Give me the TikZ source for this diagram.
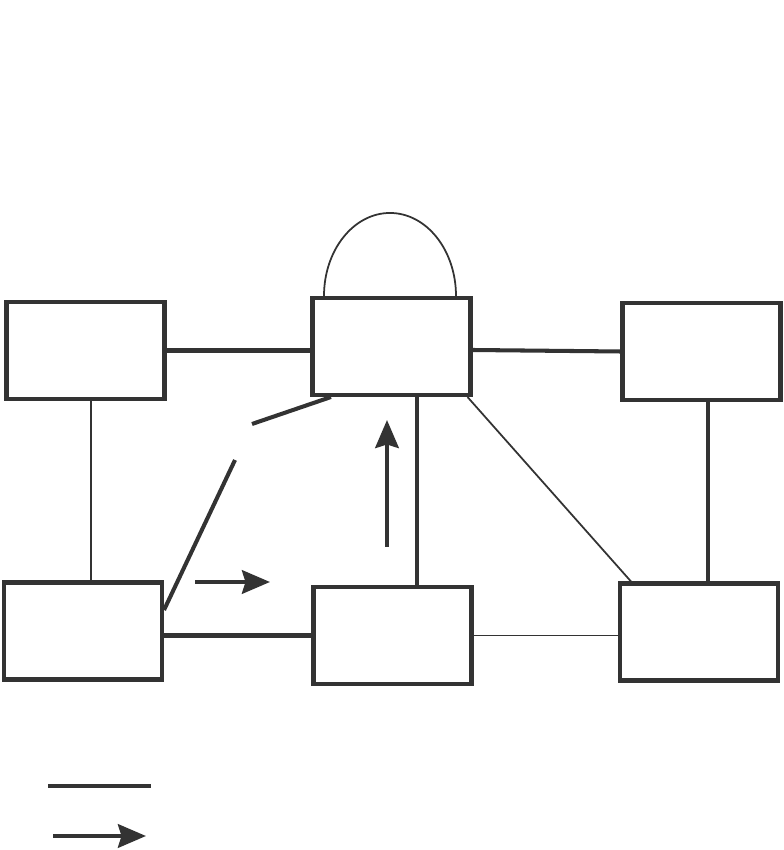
\documentclass[tikz,border=0pt]{standalone}
\usepackage{tikz}
\usetikzlibrary{calc,arrows.meta}
\definecolor{lineGrey}{HTML}{333333}
\tikzset{
  blockbox/.style={rectangle, draw=lineGrey, line width=2.3pt, minimum width=3.16cm, minimum height=1.94cm, inner sep=0pt},
  heavylink/.style={draw=lineGrey, line width=2.3pt},
  lightlink/.style={draw=lineGrey, line width=1pt},
  flowarrow/.style={-{Stealth[length=0.56cm, width=0.47cm, inset=0.07cm]}, draw=lineGrey, fill=lineGrey, line width=2.4pt},
}
\begin{document}
\begin{tikzpicture}[x=1cm,y=1cm]
  \useasboundingbox (0,0) rectangle (15.68,17);

  % Blocks
  \node[blockbox] (tl) at (1.71, 9.99) {};
  \node[blockbox] (tc) at (7.83, 10.07) {};
  \node[blockbox] (tr) at (14.03, 9.97) {};
  \node[blockbox] (bl) at (1.66, 4.38) {};
  \node[blockbox] (bc) at (7.85, 4.29) {};
  \node[blockbox] (br) at (13.98, 4.36) {};

  % Loop on top block
  \draw[lightlink] ([xshift=-1.35cm]tc.north) arc[start angle=180, end angle=0, x radius=1.32cm, y radius=1.66cm];

  % Links
  \draw[heavylink] (tl.east) -- (tl.east -| tc.west);
  \draw[heavylink] ([yshift=-0.07cm]tc.east) -- (tr.west);
  \draw[lightlink] ([xshift=0.11cm]tl.south) -- ([xshift=0.11cm]tl.south |- bl.north);
  \draw[heavylink] ([xshift=0.13cm]tr.south) -- ([xshift=0.13cm]tr.south |- br.north);
  \draw[heavylink] (bc.west -| bl.east) -- (bc.west);
  \draw[lightlink] (bc.east) -- (bc.east -| br.west);
  \draw[heavylink] ([xshift=0.51cm]tc.south) -- ([xshift=0.51cm]tc.south |- bc.north);
  \draw[lightlink] ([xshift=-0.1cm]tc.south east) -- ([xshift=0.26cm]br.north west);

  % Broken link
  \coordinate (gapA) at (4.70, 7.80);
  \coordinate (gapB) at (5.04, 8.52);
  \draw[heavylink] ([yshift=0.42cm]bl.east) -- (gapA);
  \draw[heavylink] (gapB) -- ([xshift=0.41cm]tc.south west);

  % Flow arrows
  \coordinate (flowA) at (3.90, 5.36);
  \coordinate (flowB) at (5.40, 5.36);
  \coordinate (flowC) at (7.74, 6.06);
  \coordinate (flowD) at (7.74, 8.60);
  \draw[flowarrow] (flowA) -- (flowB);
  \draw[flowarrow] (flowC) -- (flowD);

  % Key
  \coordinate (keyA) at (0.96, 1.28);
  \coordinate (keyB) at (3.02, 1.28);
  \coordinate (keyC) at (1.06, 0.28);
  \coordinate (keyD) at (2.92, 0.28);
  \draw[heavylink] (keyA) -- (keyB);
  \draw[flowarrow] (keyC) -- (keyD);
\end{tikzpicture}
\end{document}
